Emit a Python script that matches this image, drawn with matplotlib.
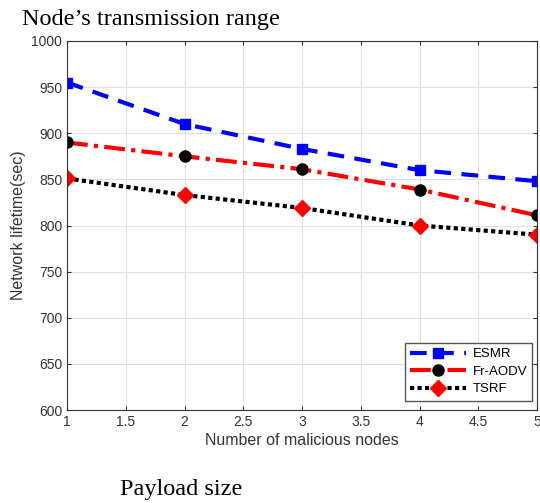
import matplotlib.pyplot as plt

x = [1, 2, 3, 4, 5]
esmr = [955, 910, 883, 860, 848]
fraodv = [890, 875, 861, 839, 811]
tsrf = [851, 833, 819, 800, 790]

plt.rcParams['font.family'] = ['Liberation Sans', 'DejaVu Sans']

fig = plt.figure(figsize=(5.4, 5.03), dpi=100)
ax = fig.add_axes([67/540, (503-410)/503, (537-67)/540, (410-41)/503])

ax.plot(x, esmr, color='blue', lw=3, linestyle=(0, (4, 2.5)), marker='s',
        markersize=7, markerfacecolor='blue', markeredgecolor='blue', label='ESMR')
ax.plot(x, fraodv, color='red', lw=3, linestyle=(0, (5, 1.5, 1, 1.5)), marker='o',
        markersize=8, markerfacecolor='black', markeredgecolor='black', label='Fr-AODV')
ax.plot(x, tsrf, color='black', lw=3, linestyle=(0, (1, 0.8)), marker='D',
        markersize=8, markerfacecolor='red', markeredgecolor='red', label='TSRF')

ax.set_xlim(1, 5)
ax.set_ylim(600, 1000)
ax.set_xticks([1, 1.5, 2, 2.5, 3, 3.5, 4, 4.5, 5])
ax.set_xticklabels(['1', '1.5', '2', '2.5', '3', '3.5', '4', '4.5', '5'])
ax.set_yticks(range(600, 1001, 50))
ax.grid(True, color='#e0e0e0', lw=0.8)
ax.tick_params(direction='in', top=True, right=True, labelsize=10, colors='#333333', length=3)
for s in ax.spines.values():
    s.set_color('#333333')
ax.set_xlabel('Number of malicious nodes', fontsize=11.5, color='#333333', labelpad=3)
ax.set_ylabel('Network lifetime(sec)', fontsize=11.5, color='#333333')

leg = ax.legend(loc='lower right', fontsize=9.5, handlelength=4.2, fancybox=False,
                framealpha=1, edgecolor='#555555', borderpad=0.4, labelspacing=0.4,
                handletextpad=0.5, borderaxespad=0, bbox_to_anchor=(0.99, 0.025))

fig.text(22/540, 1 - 20/503, "Node\u2019s transmission range", fontsize=17.5,
         family='Liberation Serif', va='center', ha='left')
fig.text(120/540, 1 - 490/503, "Payload size", fontsize=17.5,
         family='Liberation Serif', va='center', ha='left')

fig.savefig('out.png', dpi=100)
